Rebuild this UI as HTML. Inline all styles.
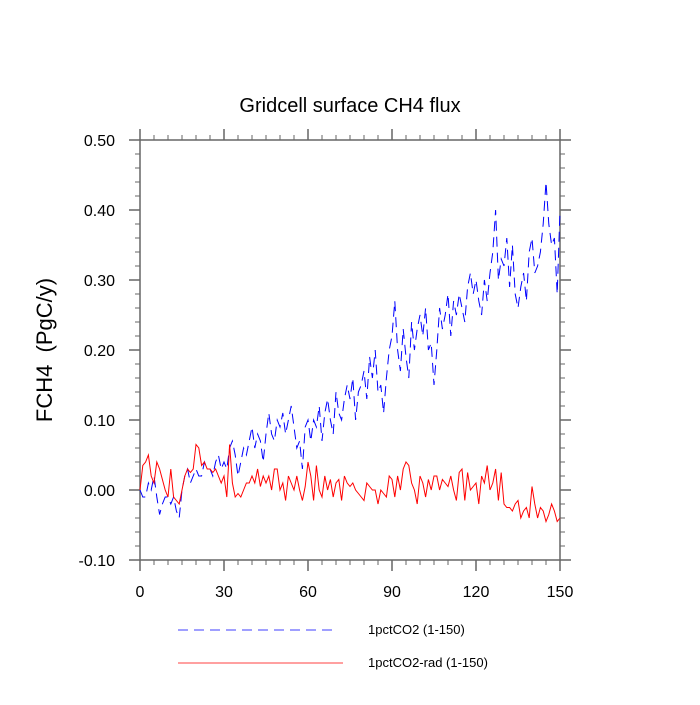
<!DOCTYPE html>
<html><head><meta charset="utf-8"><style>
body{margin:0;background:#fff;}
svg{font-family:"Liberation Sans",sans-serif;}
</style></head><body>
<svg id="chart" width="700" height="700" viewBox="0 0 700 700" xmlns="http://www.w3.org/2000/svg">
<rect width="700" height="700" fill="#fff"/>
<text x="350" y="112" text-anchor="middle" font-size="20">Gridcell surface CH4 flux</text>
<text transform="translate(52,350) rotate(-90)" text-anchor="middle" font-size="22">FCH4&#160;&#160;(PgC/y)</text>
<g id="axes"></g>
<g id="series"></g>
<g>
<line x1="178" y1="630" x2="335" y2="630" stroke="#00f" stroke-width="0.8" stroke-dasharray="10,6"/>
<text x="368" y="634" font-size="13">1pctCO2 (1-150)</text>
<line x1="178" y1="663" x2="343" y2="663" stroke="#f00" stroke-width="0.8"/>
<text x="368" y="667" font-size="13">1pctCO2-rad (1-150)</text>
</g>
</svg>
<script>
const years = Array.from({length:151},(_, i)=>i);
const blueValues = [0.00,-0.01,-0.01,0.01,0.00,0.02,-0.01,-0.035,-0.02,-0.01,
-0.01,-0.02,-0.01,-0.03,-0.04,0.00,0.02,0.03,0.01,0.02,
0.03,0.02,0.02,0.04,0.03,0.03,0.02,0.04,0.05,0.03,
0.04,0.03,0.06,0.07,0.05,0.02,0.04,0.06,0.05,0.07,
0.09,0.06,0.08,0.07,0.04,0.08,0.11,0.08,0.07,0.10,
0.09,0.11,0.08,0.10,0.12,0.09,0.06,0.07,0.03,0.09,
0.10,0.07,0.10,0.09,0.12,0.07,0.11,0.13,0.10,0.08,
0.14,0.11,0.10,0.13,0.15,0.13,0.16,0.10,0.14,0.15,
0.17,0.13,0.19,0.16,0.20,0.14,0.15,0.11,0.16,0.20,
0.22,0.27,0.20,0.17,0.23,0.19,0.16,0.24,0.20,0.23,
0.25,0.22,0.26,0.20,0.21,0.15,0.20,0.26,0.23,0.25,
0.28,0.22,0.27,0.25,0.28,0.26,0.24,0.29,0.31,0.28,
0.30,0.27,0.25,0.30,0.27,0.31,0.34,0.40,0.30,0.33,
0.32,0.36,0.29,0.35,0.28,0.26,0.29,0.31,0.27,0.34,
0.36,0.31,0.32,0.34,0.38,0.44,0.38,0.35,0.36,0.28,
0.40];
const redValues = [0.00,0.035,0.04,0.05,0.02,0.01,0.04,0.03,0.015,0.0,
-0.01,0.03,-0.01,-0.015,-0.02,0.0,0.02,0.03,0.025,0.03,
0.065,0.06,0.035,0.04,0.03,0.03,0.025,0.03,0.02,0.01,
0.02,-0.01,0.065,0.01,-0.01,-0.005,-0.01,0.0,0.01,0.01,
0.02,0.01,0.03,0.005,0.02,0.01,0.02,0.0,0.03,0.03,
0.0,0.01,-0.015,0.02,0.01,0.0,0.02,0.0,-0.015,0.005,
0.04,0.02,-0.015,0.035,0.0,-0.01,0.02,0.0,0.015,-0.01,
0.01,0.015,-0.015,0.02,0.01,0.005,0.01,0.0,-0.005,-0.01,
-0.015,0.01,0.005,0.0,0.0,-0.02,0.0,-0.005,-0.01,0.02,
0.015,-0.01,0.02,0.0,0.03,0.04,0.035,0.01,0.0,-0.02,
0.02,0.01,-0.01,0.015,0.0,0.02,0.02,0.0,0.015,0.01,
0.005,0.02,0.0,-0.015,0.025,0.03,-0.015,0.025,0.0,0.005,
0.01,-0.02,0.02,0.01,0.035,0.0,0.01,0.03,-0.015,0.025,
-0.02,-0.025,-0.025,-0.03,-0.02,-0.015,-0.04,-0.03,-0.025,-0.04,
0.005,-0.02,-0.04,-0.025,-0.03,-0.045,-0.035,-0.02,-0.03,-0.045,
-0.04];
const xTicks = [0,30,60,90,120,150];
const yTicks = [-0.10,0.00,0.10,0.20,0.30,0.40,0.50];

const L=140,R=560,T=140,B=560,xMin=0,xMax=150,yMin=-0.1,yMax=0.5;
const xs=v=>L+(v-xMin)/(xMax-xMin)*(R-L);
const ys=v=>B-(v-yMin)/(yMax-yMin)*(B-T);
const NS="http://www.w3.org/2000/svg";
const AX='#666';
function mk(tag,attrs,parent){const e=document.createElementNS(NS,tag);for(const k in attrs)e.setAttribute(k,attrs[k]);parent.appendChild(e);return e;}
const axes=document.getElementById('axes');
const frame=mk('rect',{x:L,y:T,width:R-L,height:B-T,fill:'none',stroke:AX,'stroke-width':1.5},axes);


for(let v=0;v<=150;v+=5){
  const major=v%30===0, len=major?11:5, x=xs(v);
  const t1=mk('line',{x1:x,y1:B,x2:x,y2:B+len,stroke:AX,'stroke-width':major?1.5:1},axes);
  
  
  const t2=mk('line',{x1:x,y1:T,x2:x,y2:T-len,stroke:AX,'stroke-width':major?1.5:1},axes);
  
  
}
xTicks.forEach(v=>{
  const t=mk('text',{x:xs(v),y:B+37,'text-anchor':'middle','font-size':16},axes);
  t.textContent=v;
  
  
});
for(let i=0;i<=30;i++){
  const v=yMin+i*0.02, major=i%5===0, len=major?11:5, y=ys(v);
  const t1=mk('line',{x1:L,y1:y,x2:L-len,y2:y,stroke:AX,'stroke-width':major?1.5:1},axes);
  
  
  const t2=mk('line',{x1:R,y1:y,x2:R+len,y2:y,stroke:AX,'stroke-width':major?1.5:1},axes);
  
  
}
yTicks.forEach(v=>{
  const t=mk('text',{x:115,y:ys(v)+6,'text-anchor':'end','font-size':16},axes);
  t.textContent=v.toFixed(2);
  
  
});
const series=document.getElementById('series');
const pts=arr=>arr.map((v,i)=>xs(years[i]).toFixed(1)+','+ys(v).toFixed(1)).join(' ');
const blue=mk('polyline',{points:pts(blueValues),fill:'none',stroke:'#00f','stroke-width':1,'stroke-dasharray':'10,6'},series);


const red=mk('polyline',{points:pts(redValues),fill:'none',stroke:'#f00','stroke-width':1},series);


</script>
</body></html>
